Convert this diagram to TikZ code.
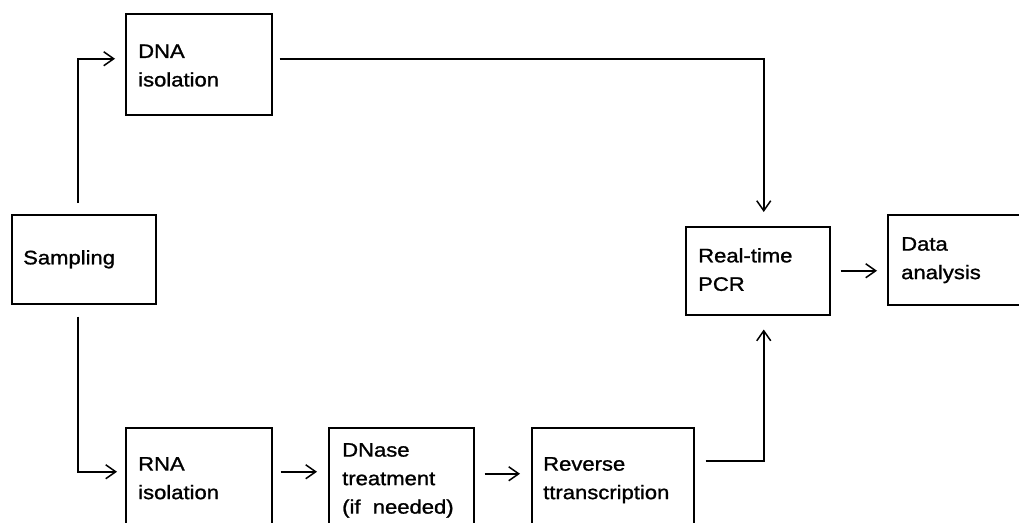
\documentclass[tikz,border=0pt]{standalone}
\usepackage{fontspec}
\setmainfont{Liberation Sans}[FakeStretch=1.13,FakeBold=1.2]
\usetikzlibrary{arrows.meta}
\begin{document}
\begin{tikzpicture}[x=1pt,y=-1pt,
  box/.style={draw, line width=1.5pt, inner sep=0pt, anchor=north west},
  txt/.style={inner sep=0pt, anchor=north west, align=left,
    font=\fontsize{19.5}{28.5}\selectfont},
  arr/.style={-{Straight Barb[length=10pt,width=14pt]}, line width=1.5pt}]
\useasboundingbox (0,0) rectangle (1019,522);
\clip (0,0) rectangle (1019,522);
\fill[white] (0,0) rectangle (1019,522);
% boxes
\node[box, minimum width=146pt, minimum height=101pt] (dna) at (125,13) {};
\node[box, minimum width=144pt, minimum height=89pt] (samp) at (11,214) {};
\node[box, minimum width=146pt, minimum height=108pt] (rna) at (125,427) {};
\node[box, minimum width=145pt, minimum height=108pt] (dnase) at (328,427) {};
\node[box, minimum width=162pt, minimum height=108pt] (rt) at (531,427) {};
\node[box, minimum width=144pt, minimum height=88pt] (pcr) at (685,226) {};
\node[box, minimum width=153pt, minimum height=90pt] (data) at (887,214) {};
% texts
\node[txt] (tdna) at ([xshift=13pt,yshift=-31.3pt]dna.north west) {DNA\\isolation};
\node[txt] (tsamp) at ([xshift=12pt,yshift=-36pt]samp.north west) {Sampling};
\node[txt] (trna) at ([xshift=13pt,yshift=-30pt]rna.north west) {RNA\\isolation};
\node[txt] (tdnase) at ([xshift=14pt,yshift=-16pt]dnase.north west) {DNase\\treatment\\(if~~needed)};
\node[txt] (trt) at ([xshift=12pt,yshift=-30pt]rt.north west) {Reverse\\ttranscription};
\node[txt] (tpcr) at ([xshift=13pt,yshift=-22pt]pcr.north west) {Real-time\\PCR};
\node[txt] (tdata) at ([xshift=14pt,yshift=-23pt]data.north west) {Data\\analysis};
% connectors
\draw[arr] ([xshift=-6pt,yshift=11pt]samp.north) |- ([xshift=-10pt,yshift=5.5pt]dna.west);
\draw[arr] ([xshift=-6pt,yshift=-12pt]samp.south) |- ([xshift=-8pt,yshift=10pt]rna.west);
\draw[arr] ([xshift=8pt,yshift=10pt]rna.east) -- ([xshift=-11pt,yshift=10pt]dnase.west);
\draw[arr] ([xshift=10pt,yshift=8pt]dnase.east) -- ([xshift=-11pt,yshift=8pt]rt.west);
\draw[arr] ([xshift=11pt,yshift=21pt]rt.east) -| ([xshift=6pt,yshift=-14pt]pcr.south);
\draw[arr] ([xshift=7pt,yshift=5.5pt]dna.east) -| ([xshift=6pt,yshift=14pt]pcr.north);
\draw[arr] ([xshift=10pt]pcr.east) -- ([xshift=-10pt]data.west |- pcr.east);
\end{tikzpicture}
\end{document}
